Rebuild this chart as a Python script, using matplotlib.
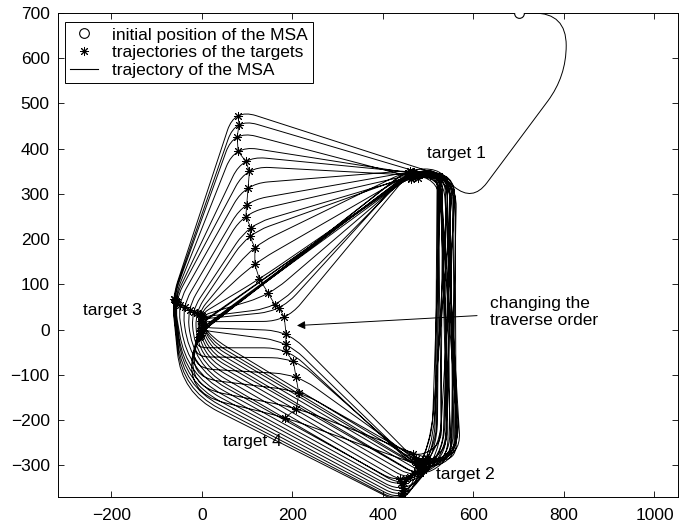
import numpy as np
import matplotlib
matplotlib.use("Agg")
import matplotlib.pyplot as plt
from matplotlib.path import Path
from matplotlib.patches import PathPatch
from matplotlib.lines import Line2D

plt.rcParams['font.family'] = ['Liberation Sans', 'DejaVu Sans']

# ---------------- data ----------------
# initial position of the MSA and its approach path (waypoints)
msa_start = (700, 700)
init_x = [700, 805, 805, 598]
init_y = [700, 700, 560, 282]

# target 4: moving target (one position per loop)
t4_x = [80, 82, 78, 80, 97, 105, 102, 99, 97, 108, 106, 117, 117, 127, 147, 161, 171, 182,
        186, 185, 185, 202, 208, 214, 209, 183]
t4_y = [473, 453, 426, 394, 372, 350, 313, 276, 250, 225, 206, 181, 144, 112, 80, 55, 48, 27,
        -10, -32, -48, -70, -105, -140, -175, -195]

# target 1 (one visit per loop + final)
t1_x = [524, 504, 478, 470, 466, 462, 460, 458, 463, 467, 471, 456, 459, 462, 465, 468, 460, 457,
        461, 464, 466, 470, 463, 459, 455, 460, 462]
t1_y = [339, 342, 336, 345, 348, 343, 350, 346, 341, 338, 344, 347, 340, 336, 343, 349, 345, 339,
        334, 341, 346, 338, 344, 350, 347, 342, 340]

# target 2
t2_x = [441, 439, 440, 443, 446, 444, 441, 438, 446, 452, 460, 468, 476, 483, 488, 484, 478, 472,
        467, 470, 475, 480, 486, 492, 497, 490]
t2_y = [-373, -370, -366, -362, -356, -350, -340, -331, -338, -331, -325, -320, -315, -318, -310,
        -302, -295, -285, -276, -290, -300, -296, -292, -288, -283, -298]

# target 3
t3_x = [-62, -61, -60, -58, -57, -55, -48, -38, -27, -18, -10, -5, -2, 0, 2, 1, -1, 0,
        2, 0, -2, -4, -3, -1, -4, -6]
t3_y = [68, 67, 65, 64, 62, 60, 55, 49, 44, 40, 37, 34, 32, 30, 27, 24, 20, 15,
        10, 5, 0, -4, -8, -11, -14, -16]

# turning (swing) points of the MSA below target 3 (nan = none)
nan = np.nan
sw_x = [-45, -43, -41, -39, -37, -34, -30, -25, -20, -15, -10, -5, 0, 5, 10, 15, 20, 25,
        nan, nan, -20, -25, -30, -32, -35, -38]
sw_y = [-140, -132, -124, -116, -108, -100, -92, -85, -78, -70, -62, -55, -48, -42, -36, -30, -25, -20,
        nan, nan, -40, -60, -85, -105, -125, -140]

# right-hand leg of each loop: bottom x / y and top x / y of the turns
xr_b = [510, 520, 505, 528, 515, 535, 508, 525, 540, 518, 532, 545, 538, 552, 548, 560, 542, 555,
        530, 565, 550, 570, 558, 572, 562, 568]
yb = [-262, -270, -255, -275, -268, -280, -258, -272, -285, -265, -278, -290, -282, -288, -276,
      -292, -270, -286, -260, -284, -295, -268, -288, -278, -292, -272]
xr_t = [545, 525, 556, 532, 520, 550, 528, 562, 538, 522, 552, 530, 558, 524, 542, 554, 527, 548,
        521, 540, 563, 526, 546, 534, 559, 523]
yt = [345, 352, 338, 348, 356, 342, 335, 350, 344, 358, 340, 332, 346, 354, 338, 348, 360, 336,
      344, 352, 330, 346, 356, 340, 350, 342]

order_switch = 18   # loop index at which the traverse order changes

# ---------------- build the MSA trajectory ----------------
R_T, R_T3, R_SW, R_RB, R_RT, R_T2 = 50, 40, 90, 70, 80, 45
wx, wy, wr, wthru = [], [], [], []


def add(x, y, r, thru):
    if np.isnan(x):
        return
    wx.append(x); wy.append(y); wr.append(r); wthru.append(thru)


add(init_x[0], init_y[0], 0, False)
add(init_x[1], init_y[1], 105, False)
add(init_x[2], init_y[2], 100, False)
add(init_x[3], init_y[3], 65, False)
for k in range(len(t4_x)):
    add(t1_x[k], t1_y[k], R_T, True)
    if k < order_switch:
        add(t4_x[k], t4_y[k], R_T, True)
        add(t3_x[k], t3_y[k], R_T3, True)
        add(sw_x[k], sw_y[k], R_SW, False)
    else:
        add(t3_x[k], t3_y[k], R_T3, True)
        add(sw_x[k], sw_y[k], R_SW, False)
        add(t4_x[k], t4_y[k], R_T, True)
    add(t2_x[k], t2_y[k], R_T2, True)
    add(xr_b[k], yb[k], R_RB, False)
    add(xr_t[k], yt[k], R_RT, False)
add(t1_x[-1], t1_y[-1], 0, False)


def corner_geometry(P, rs, i):
    p = P[i]
    d1 = P[i - 1] - p
    d2 = P[i + 1] - p
    l1 = np.hypot(*d1)
    l2 = np.hypot(*d2)
    a1 = l1 * rs[i] / (rs[i - 1] + rs[i])
    a2 = l2 * rs[i] / (rs[i] + rs[i + 1])
    r = min(rs[i], a1, a2)
    return d1 / l1, d2 / l2, r


def rounded_path(xs, ys, rs, thru):
    P = np.column_stack([xs, ys]).astype(float)
    n = len(P)
    # shift corners that must be passed through so the curve apex hits the point
    V = P.copy()
    for i in range(1, n - 1):
        if thru[i]:
            u, v, r = corner_geometry(P, rs, i)
            V[i] = P[i] - r * (u + v) / 4.0
    verts = [V[0]]
    codes = [Path.MOVETO]
    for i in range(1, n - 1):
        u, v, r = corner_geometry(V, rs, i)
        verts += [V[i] + u * r, V[i], V[i] + v * r]
        codes += [Path.LINETO, Path.CURVE3, Path.CURVE3]
    verts.append(V[-1])
    codes.append(Path.LINETO)
    return Path(verts, codes)


# ---------------- figure ----------------
fig = plt.figure(figsize=(6.9, 5.29), dpi=100)
ax = fig.add_axes([58 / 690, 1 - 497 / 529, 620 / 690, 484 / 529])

traj = rounded_path(wx, wy, wr, wthru)
ax.add_patch(PathPatch(traj, facecolor='none', edgecolor='black', lw=0.7, zorder=2))

star = (8, 2, 0)
skw = dict(color='black', marker=star, ms=6.5, mew=0.7, lw=0.6, zorder=3)
ax.plot(t4_x, t4_y, **skw)
ax.plot(t1_x, t1_y, **skw)
ax.plot(t2_x, t2_y, **skw)
ax.plot(t3_x, t3_y, **skw)
ax.plot([msa_start[0]], [msa_start[1]], ls='none', marker='o', mfc='white', mec='black',
        ms=7, mew=0.8, zorder=4)

ax.set_xlim(-318, 1052)
ax.set_ylim(-370, 700)
ax.set_xticks(np.arange(-200, 1001, 200))
ax.set_yticks(np.arange(-300, 701, 100))
ax.tick_params(direction='in', top=True, right=True, length=4, width=0.6, labelsize=12.5)
ax.tick_params(axis='x', pad=8)
ax.tick_params(axis='y', pad=6)
for s in ax.spines.values():
    s.set_linewidth(0.7)

fs = 12.5
ax.text(497, 389, 'target 1', fontsize=fs, va='center', ha='left')
ax.text(517, -320, 'target 2', fontsize=fs, va='center', ha='left')
ax.text(-263, 42, 'target 3', fontsize=fs, va='center', ha='left')
ax.text(46, -248, 'target 4', fontsize=fs, va='center', ha='left')
ax.text(636, 39, 'changing the\ntraverse order', fontsize=fs, va='center', ha='left',
        linespacing=1.1)
ax.annotate('', xy=(210, 9), xytext=(608, 31),
            arrowprops=dict(arrowstyle='-|>', color='black', lw=0.7, mutation_scale=12,
                            shrinkA=0, shrinkB=0))

handles = [
    Line2D([], [], ls='none', marker='o', mfc='white', mec='black', ms=7, mew=0.8),
    Line2D([], [], ls='none', marker=star, color='black', ms=6.5, mew=0.7),
    Line2D([], [], color='black', lw=0.8),
]
labels = ['initial position of the MSA', 'trajectories of the targets', 'trajectory of the MSA']
leg = ax.legend(handles, labels, loc='upper left', bbox_to_anchor=(0.011, 0.981),
                borderaxespad=0, frameon=True, fancybox=False, edgecolor='black',
                framealpha=1, handlelength=1.6, handletextpad=0.8, labelspacing=0.15,
                borderpad=0.3, fontsize=fs)
leg.get_frame().set_linewidth(0.7)

fig.savefig('out.png', dpi=100)
